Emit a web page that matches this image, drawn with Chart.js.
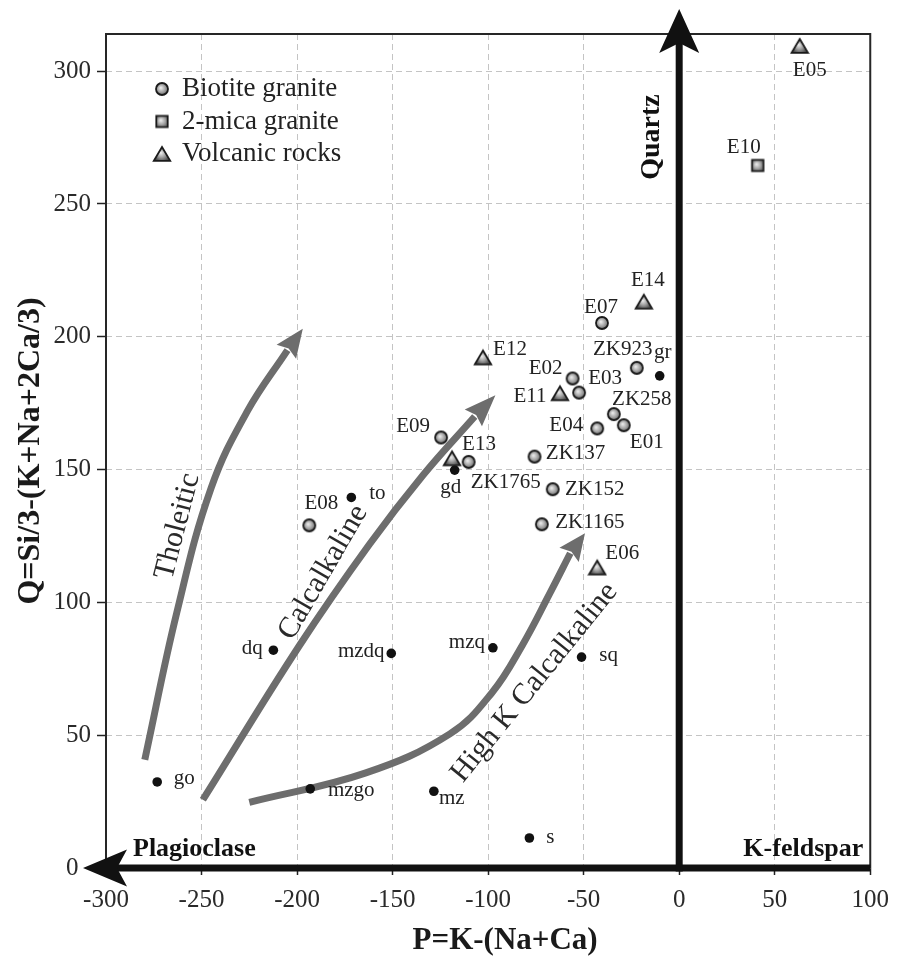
<!DOCTYPE html>
<html>
<head>
<meta charset="utf-8">
<title>Q-P diagram</title>
<script src="https://cdn.jsdelivr.net/npm/chart.js@4.4.0/dist/chart.umd.min.js"></script>
<style>
  html, body { margin: 0; padding: 0; background: #fff; }
  #wrap { width: 899px; height: 960px; }
</style>
</head>
<body>
<div id="wrap"><canvas id="qpChart" width="899" height="960"></canvas></div>
<script>
/////////////////////////////
// Data
/////////////////////////////

// Biotite granite (P, Q)
const biotiteNames = ['E07', 'ZK923', 'E02', 'E03', 'ZK258', 'E01', 'E04', 'ZK137', 'E09', 'ZK1765', 'ZK152', 'ZK1165', 'E08'];
const biotiteP = [-40.4, -22.2, -55.8, -52.4, -34.2, -29.0, -42.9, -75.7, -124.6, -110.2, -66.2, -71.9, -193.6];
const biotiteQ = [205.2, 188.3, 184.3, 179.0, 170.9, 166.7, 165.5, 154.9, 162.1, 152.9, 142.6, 129.4, 129.0];

// 2-mica granite
const micaNames = ['E10'];
const micaP = [41.1];
const micaQ = [264.5];

// Volcanic rocks
const volcanicNames = ['E05', 'E14', 'E12', 'E11', 'E13', 'E06'];
const volcanicP = [63.1, -18.5, -102.7, -62.4, -118.9, -42.9];
const volcanicQ = [309.5, 213.2, 192.2, 178.7, 154.2, 113.1];

// Reference rock types
const refNames = ['gr', 'to', 'gd', 'dq', 'mzdq', 'mzq', 'sq', 'go', 'mzgo', 'mz', 's'];
const refP = [-10.2, -171.6, -117.5, -212.4, -150.7, -97.5, -51.1, -273.2, -193.1, -128.4, -78.4];
const refQ = [185.3, 139.5, 149.8, 82.0, 80.8, 82.9, 79.4, 32.4, 29.8, 28.9, 11.3];

// Trend arrows (path up to the arrowhead base, then the tip)
const tholeiticP = [-279.7, -263, -245, -226, -205];
const tholeiticQ = [40.8, 96, 143, 172, 195];
const tholeiticTip = [-197, 203];

const calcalkalineP = [-249.3, -199, -162, -134, -107];
const calcalkalineQ = [25.7, 83.5, 122, 148, 170];
const calcalkalineTip = [-96.2, 178];

const highKP = [-225, -164, -120, -98, -82, -68, -57];
const highKQ = [24.7, 35.8, 50.5, 66, 84, 103, 118.5];
const highKTip = [-49.3, 126];

// Axis ticks
const xTickValues = [-300, -250, -200, -150, -100, -50, 0, 50, 100];
const yTickValues = [0, 50, 100, 150, 200, 250, 300];

/////////////////////////////
// Styles
/////////////////////////////

const FONT = '"Liberation Serif", "Times New Roman", Times, serif';
const ARROW_GRAY = '#6d6d6d';

// label offsets from the point, in px (label centre)
const labelOffsets = {
  E07: [-1, -15], ZK923: [-14, -18], E02: [-27, -10], E03: [26, -14], ZK258: [28, -15],
  E01: [23, 17], E04: [-31, -3], ZK137: [41, -3], E09: [-28, -11], ZK1765: [37, 21],
  ZK152: [42, 0], ZK1165: [48, -2], E08: [12, -22],
  E10: [-14, -18],
  E05: [10, 25], E14: [4, -21], E12: [27, -8], E11: [-30, 3], E13: [27, -14], E06: [25, -14],
  gr: [3, -23], to: [26, -4], gd: [-4, 17], dq: [-21, -2], mzdq: [-30, -2], mzq: [-26, -5],
  sq: [27, -2], go: [27, -3], mzgo: [41, 2], mz: [18, 7], s: [21, -1]
};

// trend captions: text, centre (P, Q), angle in degrees
const trendCaptions = [
  { text: 'Tholeitic', P: -262.5, Q: 128.6, angle: -75.5 },
  { text: 'Calcalkaline', P: -186.3, Q: 111.3, angle: -60 },
  { text: 'High K Calcalkaline', P: -75.8, Q: 69.8, angle: -51 }
];

/////////////////////////////
// Markers
/////////////////////////////

function makeMarker(shape) {
  const c = document.createElement('canvas');
  c.width = 20; c.height = 20;
  const g = c.getContext('2d');
  const grad = g.createRadialGradient(8.8, 8.8, 0.5, 10, 10, 7.5);
  grad.addColorStop(0, '#e8e8e8');
  grad.addColorStop(0.5, '#a0a0a0');
  grad.addColorStop(1, '#4e4e4e');
  g.fillStyle = grad;
  g.strokeStyle = '#1a1a1a';
  g.lineWidth = 1.8;
  g.beginPath();
  if (shape === 'circle') g.arc(10, 10, 6, 0, Math.PI * 2);
  else if (shape === 'rect') g.rect(4.3, 4.3, 11.4, 11.4);
  else { g.moveTo(10, 3); g.lineTo(18.2, 16.8); g.lineTo(1.8, 16.8); g.closePath(); }
  g.fill();
  g.stroke();
  return c;
}
const markers = { circle: makeMarker('circle'), rect: makeMarker('rect'), triangle: makeMarker('triangle') };

function pts(xs, ys) { return xs.map((x, i) => ({ x: x, y: ys[i] })); }

function arrowHead(ctx, tx, ty, ang, len, half, notch) {
  ctx.save();
  ctx.translate(tx, ty);
  ctx.rotate(ang);
  ctx.beginPath();
  ctx.moveTo(0, 0);
  ctx.lineTo(-len, -half);
  ctx.lineTo(-len + notch, 0);
  ctx.lineTo(-len, half);
  ctx.closePath();
  ctx.fill();
  ctx.restore();
}

/////////////////////////////
// Plugin | frame, axes arrows, labels, legend
/////////////////////////////

const qpDecor = {
  id: 'qpDecor',
  beforeDatasetsDraw(chart) {
    const { ctx, chartArea: a, scales: { x, y } } = chart;
    const x0 = x.getPixelForValue(0), y0 = y.getPixelForValue(0);
    ctx.save();
    // thin frame
    ctx.strokeStyle = '#262626';
    ctx.lineWidth = 2;
    ctx.beginPath();
    ctx.moveTo(a.left, a.bottom); ctx.lineTo(a.left, a.top);
    ctx.lineTo(a.right, a.top); ctx.lineTo(a.right, a.bottom);
    ctx.stroke();
    // thick Plagioclase / Quartz axes
    ctx.strokeStyle = '#111';
    ctx.fillStyle = '#111';
    ctx.lineWidth = 7;
    ctx.beginPath(); ctx.moveTo(a.right, y0); ctx.lineTo(a.left - 10, y0); ctx.stroke();
    ctx.beginPath(); ctx.moveTo(x0, y0 + 3.5); ctx.lineTo(x0, a.top - 12); ctx.stroke();
    arrowHead(ctx, a.left - 23, y0, Math.PI, 44, 18.5, 10);
    arrowHead(ctx, x0, a.top - 25, -Math.PI / 2, 44, 20, 10);

    // corner captions
    ctx.font = 'bold 26px ' + FONT;
    ctx.textBaseline = 'alphabetic';
    ctx.textAlign = 'left';
    ctx.fillText('Plagioclase', a.left + 27, y0 - 12);
    ctx.textAlign = 'right';
    ctx.fillText('K-feldspar', a.right - 7, y0 - 12);
    ctx.save();
    ctx.translate(x0 - 27, a.top + 103);
    ctx.rotate(-Math.PI / 2);
    ctx.font = 'bold 28px ' + FONT;
    ctx.textAlign = 'center';
    ctx.textBaseline = 'middle';
    ctx.fillText('Quartz', 0, 0);
    ctx.restore();

    // axis titles
    ctx.fillStyle = '#1a1a1a';
    ctx.textAlign = 'center';
    ctx.textBaseline = 'middle';
    ctx.font = 'bold 31px ' + FONT;
    ctx.fillText('P=K-(Na+Ca)', (a.left + a.right) / 2 + 17, 941);
    ctx.save();
    ctx.translate(31, (a.top + a.bottom) / 2);
    ctx.rotate(-Math.PI / 2);
    ctx.font = 'bold 32px ' + FONT;
    ctx.fillText('Q=Si/3-(K+Na+2Ca/3)', 0, 0);
    ctx.restore();
    ctx.restore();
  },
  afterDatasetDraw(chart, args) {
    const ds = chart.data.datasets[args.index];
    if (!ds.tip) return;
    const { ctx, scales: { x, y } } = chart;
    const last = ds.data[ds.data.length - 1];
    const bx = x.getPixelForValue(last.x), by = y.getPixelForValue(last.y);
    const tx = x.getPixelForValue(ds.tip[0]), ty = y.getPixelForValue(ds.tip[1]);
    const ang = Math.atan2(ty - by, tx - bx);
    const len = Math.hypot(tx - bx, ty - by) + 2;
    ctx.save();
    ctx.fillStyle = ARROW_GRAY;
    arrowHead(ctx, tx, ty, ang, len, 12, 4);
    ctx.restore();
  },
  afterDatasetsDraw(chart) {
    const { ctx, chartArea: a, scales: { x, y } } = chart;
    ctx.save();
    // point labels
    ctx.fillStyle = '#222';
    ctx.font = '21px ' + FONT;
    ctx.textAlign = 'center';
    ctx.textBaseline = 'middle';
    chart.data.datasets.forEach((ds, di) => {
      if (!ds.names) return;
      const meta = chart.getDatasetMeta(di);
      meta.data.forEach((el, i) => {
        const off = labelOffsets[ds.names[i]] || [0, -16];
        ctx.fillText(ds.names[i], el.x + off[0], el.y + off[1]);
      });
    });
    // trend captions
    ctx.font = '30px ' + FONT;
    ctx.fillStyle = '#2a2a2a';
    trendCaptions.forEach(t => {
      ctx.save();
      ctx.translate(x.getPixelForValue(t.P), y.getPixelForValue(t.Q));
      ctx.rotate(t.angle * Math.PI / 180);
      ctx.fillText(t.text, 0, 0);
      ctx.restore();
    });
    // legend
    ctx.font = '27px ' + FONT;
    ctx.textAlign = 'left';
    ctx.fillStyle = '#222';
    let row = 0;
    chart.data.datasets.forEach(ds => {
      if (!ds.inLegend) return;
      const cy = a.top + 55 + row * 32.5;
      ctx.drawImage(ds.pointStyle, a.left + 56 - 10, cy - 10);
      ctx.fillText(ds.label, a.left + 76, cy);
      row++;
    });
    ctx.restore();
  }
};

/////////////////////////////
// Chart
/////////////////////////////

const trendStyle = {
  showLine: true, pointRadius: 0, borderColor: ARROW_GRAY, borderWidth: 7,
  tension: 0.4, borderCapStyle: 'butt', fill: false
};

const ctx = document.getElementById('qpChart').getContext('2d');
const qpChart = new Chart(ctx, {
  type: 'scatter',
  data: {
    datasets: [
      { label: 'Biotite granite', names: biotiteNames, inLegend: true, data: pts(biotiteP, biotiteQ),
        pointStyle: markers.circle, pointRadius: 7 },
      { label: '2-mica granite', names: micaNames, inLegend: true, data: pts(micaP, micaQ),
        pointStyle: markers.rect, pointRadius: 7 },
      { label: 'Volcanic rocks', names: volcanicNames, inLegend: true, data: pts(volcanicP, volcanicQ),
        pointStyle: markers.triangle, pointRadius: 8 },
      { label: 'Reference rocks', names: refNames, data: pts(refP, refQ),
        pointStyle: 'circle', pointRadius: 4.8, backgroundColor: '#111', borderColor: '#111', borderWidth: 0 },
      Object.assign({ label: 'Tholeitic', data: pts(tholeiticP, tholeiticQ), tip: tholeiticTip }, trendStyle),
      Object.assign({ label: 'Calcalkaline', data: pts(calcalkalineP, calcalkalineQ), tip: calcalkalineTip }, trendStyle),
      Object.assign({ label: 'High K Calcalkaline', data: pts(highKP, highKQ), tip: highKTip }, trendStyle)
    ]
  },
  options: {
    responsive: false,
    animation: false,
    layout: { padding: { top: 34, right: 25, left: 0, bottom: 0 } },
    plugins: { legend: { display: false }, tooltip: { enabled: false } },
    scales: {
      x: {
        type: 'linear', min: -300, max: 100,
        afterBuildTicks: s => { s.ticks = xTickValues.map(v => ({ value: v })); },
        afterFit: s => { s.height = 92; },
        grid: { color: '#c4c4c4', lineWidth: 1, tickLength: 7, tickColor: '#222', tickWidth: 1.5, tickBorderDash: [] },
        border: { display: false, dash: [6, 4] },
        ticks: { font: { family: FONT, size: 25 }, color: '#2a2a2a', padding: 10, maxRotation: 0 }
      },
      y: {
        type: 'linear', min: 0, max: 314,
        afterBuildTicks: s => { s.ticks = yTickValues.map(v => ({ value: v })); },
        afterFit: s => { s.width = 106; },
        grid: { color: '#c4c4c4', lineWidth: 1, tickLength: 9, tickColor: '#222', tickWidth: 1.5, tickBorderDash: [] },
        border: { display: false, dash: [6, 4] },
        ticks: {
          font: { family: FONT, size: 25 }, color: '#2a2a2a', padding: 6,
          callback: v => (v === 0 ? '0\u2002' : String(v))
        }
      }
    }
  },
  plugins: [qpDecor]
});
</script>
</body>
</html>
